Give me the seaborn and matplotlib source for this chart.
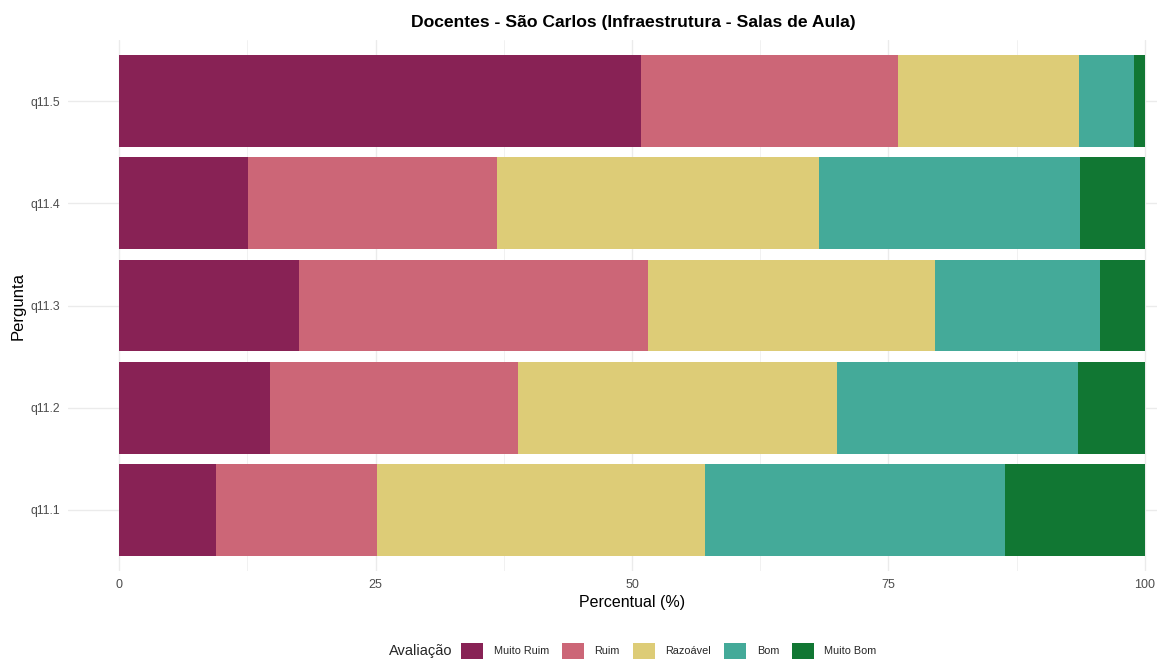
import numpy as np
import pandas as pd
import matplotlib
matplotlib.use("Agg")
import matplotlib.pyplot as plt
from matplotlib.patches import Patch
from matplotlib.ticker import MultipleLocator
import seaborn as sns

questions = ["q11.5", "q11.4", "q11.3", "q11.2", "q11.1"]
levels = ["Muito Ruim", "Ruim", "Razoável", "Bom", "Muito Bom"]
colors = ["#882255", "#CC6677", "#DDCC77", "#44AA99", "#117733"]

muito_ruim = [50.9, 12.6, 17.5, 14.7, 9.4]
ruim = [25.0, 24.2, 34.1, 24.2, 15.7]
razoavel = [17.7, 31.4, 27.9, 31.1, 32.0]
bom = [5.4, 25.5, 16.1, 23.5, 29.3]
muito_bom = [1.0, 6.3, 4.4, 6.5, 13.6]

df = pd.DataFrame({"Pergunta": questions, "Muito Ruim": muito_ruim, "Ruim": ruim,
                   "Razoável": razoavel, "Bom": bom, "Muito Bom": muito_bom})
cum = df[levels].cumsum(axis=1)
cum["Pergunta"] = df["Pergunta"]

sns.set_theme(style="white")
plt.rcParams["font.family"] = ["Liberation Sans", "DejaVu Sans"]

fig = plt.figure(figsize=(11.57, 6.59), dpi=100)
ax = fig.add_axes([68 / 1157, 1 - 571 / 659, 1128 / 1157, 531 / 659])

for lvl, col in reversed(list(zip(levels, colors))):
    sns.barplot(data=cum, x=lvl, y="Pergunta", order=questions, color=col,
                width=0.9, saturation=1, orient="h", ax=ax, edgecolor="none", linewidth=0)

ax.set_xlim(-5, 105)
ax.set_ylim(4.6, -0.6)
ax.xaxis.set_major_locator(MultipleLocator(25))
ax.xaxis.set_minor_locator(MultipleLocator(12.5))
ax.set_axisbelow(True)
ax.grid(True, which="major", axis="both", color="#EBEBEB", linewidth=1.0)
ax.grid(True, which="minor", axis="x", color="#EBEBEB", linewidth=0.5)
for s in ax.spines.values():
    s.set_visible(False)
ax.tick_params(axis="both", which="both", length=0, colors="#4D4D4D")
ax.tick_params(axis="y", labelsize=8.8, pad=6)
ax.tick_params(axis="x", labelsize=9, pad=6)
ax.set_xticks([0, 25, 50, 75, 100])
ax.set_xticklabels(["0", "25", "50", "75", "100"])
ax.set_xlabel("Percentual (%)", fontsize=11.5, color="black", labelpad=3)
ax.set_ylabel("Pergunta", fontsize=12, color="black", labelpad=4)
ax.yaxis.set_label_coords(-42 / 1128, 0.5)

fig.text(633 / 1157, 1 - 22 / 659, "Docentes - São Carlos (Infraestrutura - Salas de Aula)",
         ha="center", va="center", fontsize=12.6, fontweight="bold", color="black")

handles = [Patch(facecolor=c, edgecolor="none", label=l) for l, c in zip(levels, colors)]
fig.text(421 / 1157, 1 - 651 / 659, "Avaliação", ha="center", va="center", fontsize=10.5)
fig.legend(handles=handles, loc="center", bbox_to_anchor=(669 / 1157, 1 - 651 / 659),
           ncol=5, frameon=False, fontsize=7.8, handlelength=2.0, handleheight=2.0,
           handletextpad=1.0, columnspacing=1.2, borderpad=0, borderaxespad=0)

fig.savefig("out.png", dpi=100)
